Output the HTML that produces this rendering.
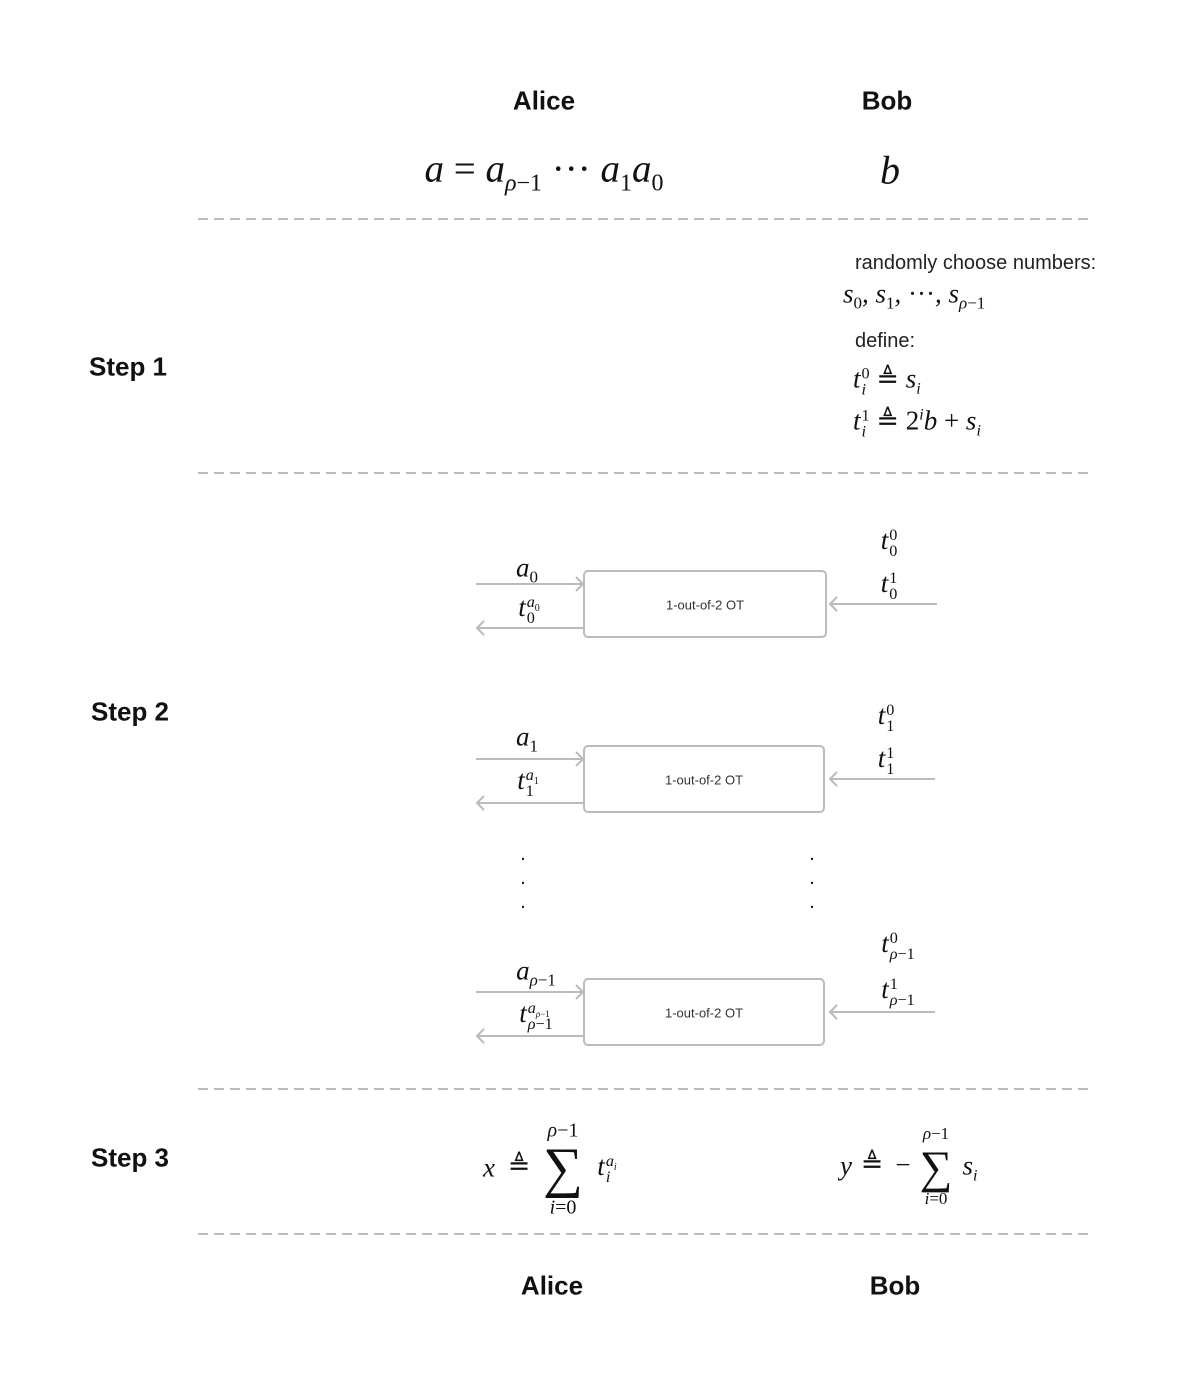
<!DOCTYPE html>
<html><head><meta charset="utf-8"><style>
body{margin:0;width:1200px;height:1385px;background:#fff;position:relative;font-family:"Liberation Sans",sans-serif;color:#111}
.a{position:absolute;white-space:nowrap}
.h{font-weight:bold;font-size:26px;transform:translate(-50%,-50%)}
.m{font-family:"Liberation Serif",serif;font-style:italic;transform:translate(-50%,-50%)}
.L{transform:translateY(-50%)}
.m .r,.r{font-style:normal}
.t{font-size:20px;color:#222}
.ot{font-size:13px;color:#333;transform:translate(-50%,-50%)}
.dot{font-size:20px;line-height:24px;transform:translateX(-50%)}
.ss{display:inline-flex;flex-direction:column;vertical-align:middle;line-height:1;font-size:0.6em;margin-left:1px;white-space:nowrap}
.ss>span{display:block;white-space:nowrap}
.ss sub{line-height:0}
</style></head><body>
<svg class="a" style="left:0;top:0" width="1200" height="1385">
<g stroke="#bbb" stroke-width="2" stroke-dasharray="10 6">
<line x1="198" y1="219" x2="1090" y2="219"/><line x1="198" y1="473" x2="1090" y2="473"/>
<line x1="198" y1="1089" x2="1090" y2="1089"/><line x1="198" y1="1234" x2="1090" y2="1234"/>
</g>
<g stroke="#bbb" stroke-width="2" fill="none">
<rect x="584" y="571" width="242" height="66" rx="4"/>
<rect x="584" y="746" width="240" height="66" rx="4"/>
<rect x="584" y="979" width="240" height="66" rx="4"/>
<path d="M476 584H583M576 577l7 7-7 7M584 628H477M484 621l-7 7 7 7M937 604H830M837 597l-7 7 7 7"/>
<path d="M476 759H583M576 752l7 7-7 7M584 803H477M484 796l-7 7 7 7M935 779H830M837 772l-7 7 7 7"/>
<path d="M476 992H583M576 985l7 7-7 7M584 1036H477M484 1029l-7 7 7 7M935 1012H830M837 1005l-7 7 7 7"/>
</g></svg>
<div class="a h" style="left:544px;top:101px">Alice</div>
<div class="a h" style="left:887px;top:101px">Bob</div>
<div class="a h" style="left:552px;top:1286px">Alice</div>
<div class="a h" style="left:895px;top:1286px">Bob</div>
<div class="a h" style="left:128px;top:367px">Step 1</div>
<div class="a h" style="left:130px;top:712px">Step 2</div>
<div class="a h" style="left:130px;top:1158px">Step 3</div>
<div class="a m" style="left:544px;top:172px;font-size:39px">a <span class="r">=</span> a<sub style="font-size:24px">ρ<span class="r">−1</span></sub> <span class="r">···</span> a<sub style="font-size:24px" class="r">1</sub>a<sub style="font-size:24px" class="r">0</sub></div>
<div class="a m" style="left:890px;top:170px;font-size:40px">b</div>
<div class="a t" style="left:855px;top:252px">randomly choose numbers:</div>
<div class="a m L" style="left:843px;top:296px;font-size:27px">s<sub class="r" style="font-size:17px">0</sub>, s<sub class="r" style="font-size:17px">1</sub>, <span class="r">···</span>, s<sub style="font-size:17px">ρ<span class="r">−1</span></sub></div>
<div class="a t" style="left:855px;top:330px">define:</div>
<div class="a m L" style="left:853px;top:381px;font-size:27px">t<span class="ss"><span class="r">0</span><span>i</span></span> <span class="r">≜</span> s<sub style="font-size:16px">i</sub></div>
<div class="a m L" style="left:853px;top:423px;font-size:27px">t<span class="ss"><span class="r">1</span><span>i</span></span> <span class="r">≜ 2</span><sup style="font-size:16px">i</sup>b <span class="r">+</span> s<sub style="font-size:16px">i</sub></div>

<div class="a ot" style="left:705px;top:605px">1-out-of-2 OT</div>
<div class="a ot" style="left:704px;top:780px">1-out-of-2 OT</div>
<div class="a ot" style="left:704px;top:1013px">1-out-of-2 OT</div>

<div class="a m" style="left:527px;top:570px;font-size:27px">a<sub class="r" style="font-size:17px">0</sub></div>
<div class="a m" style="left:529px;top:609px;font-size:27px">t<span class="ss"><span>a<sub class="r" style="font-size:10px">0</sub></span><span class="r">0</span></span></div>
<div class="a m" style="left:889px;top:542px;font-size:27px">t<span class="ss"><span class="r">0</span><span class="r">0</span></span></div>
<div class="a m" style="left:889px;top:585px;font-size:27px">t<span class="ss"><span class="r">1</span><span class="r">0</span></span></div>

<div class="a m" style="left:527px;top:739px;font-size:27px">a<sub class="r" style="font-size:17px">1</sub></div>
<div class="a m" style="left:528px;top:782px;font-size:27px">t<span class="ss"><span>a<sub class="r" style="font-size:10px">1</sub></span><span class="r">1</span></span></div>
<div class="a m" style="left:886px;top:717px;font-size:27px">t<span class="ss"><span class="r">0</span><span class="r">1</span></span></div>
<div class="a m" style="left:886px;top:760px;font-size:27px">t<span class="ss"><span class="r">1</span><span class="r">1</span></span></div>

<div class="a dot" style="left:523px;top:842px">.<br>.<br>.</div>
<div class="a dot" style="left:812px;top:842px">.<br>.<br>.</div>

<div class="a m" style="left:536px;top:973px;font-size:27px">a<sub style="font-size:17px">ρ<span class="r">−1</span></sub></div>
<div class="a m" style="left:536px;top:1015px;font-size:27px">t<span class="ss"><span>a<sub style="font-size:9px">ρ<span class="r">−1</span></sub></span><span>ρ<span class="r">−1</span></span></span></div>
<div class="a m" style="left:898px;top:945px;font-size:27px">t<span class="ss"><span class="r">0</span><span>ρ<span class="r">−1</span></span></span></div>
<div class="a m" style="left:898px;top:991px;font-size:27px">t<span class="ss"><span class="r">1</span><span>ρ<span class="r">−1</span></span></span></div>

<div class="a m" style="left:489px;top:1168px;font-size:27px">x</div>
<div class="a m" style="left:519px;top:1166px;font-size:27px"><span class="r">≜</span></div>
<div class="a m" style="left:563px;top:1168px;font-size:56px"><span class="r">∑</span></div>
<div class="a m" style="left:563px;top:1131px;font-size:20px">ρ<span class="r">−1</span></div>
<div class="a m" style="left:563px;top:1208px;font-size:20px">i<span class="r">=0</span></div>
<div class="a m" style="left:607px;top:1168px;font-size:27px">t<span class="ss"><span>a<sub style="font-size:10px">i</sub></span><span>i</span></span></div>

<div class="a m" style="left:846px;top:1166px;font-size:27px">y</div>
<div class="a m" style="left:872px;top:1164px;font-size:27px"><span class="r">≜</span></div>
<div class="a m" style="left:903px;top:1165px;font-size:27px"><span class="r">−</span></div>
<div class="a m" style="left:936px;top:1167px;font-size:46px"><span class="r">∑</span></div>
<div class="a m" style="left:936px;top:1134px;font-size:17px">ρ<span class="r">−1</span></div>
<div class="a m" style="left:936px;top:1199px;font-size:17px">i<span class="r">=0</span></div>
<div class="a m" style="left:970px;top:1168px;font-size:27px">s<sub style="font-size:16px">i</sub></div>
</body></html>
